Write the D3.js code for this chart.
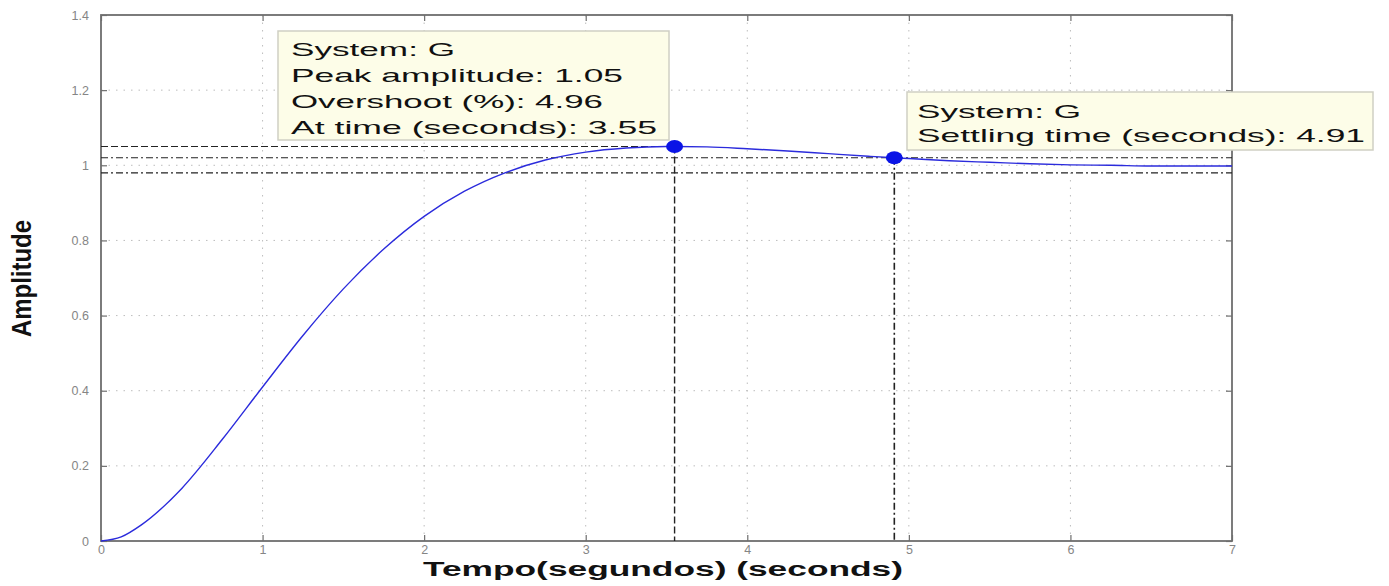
<!DOCTYPE html>
<html>
<head>
<meta charset="utf-8">
<script src="https://cdn.jsdelivr.net/npm/d3@7"></script>
<style>
  html, body { margin: 0; padding: 0; background: #fff; }
  svg { display: block; font-family: "Liberation Sans", Arial, sans-serif; }
</style>
</head>
<body>
<svg id="chart" width="1389" height="586"></svg>
<script>
// ---- data ----
const time = [0, 0.125, 0.25, 0.5, 0.75, 1, 1.25, 1.5, 1.75, 2, 2.25, 2.5, 2.75, 3, 3.25, 3.5, 3.55, 3.75, 4, 4.25, 4.5, 4.75, 4.91, 5, 5.25, 5.5, 5.75, 6, 6.25, 6.5, 6.75, 7];
const amplitude = [0, 0.011, 0.043, 0.140, 0.270, 0.410, 0.547, 0.671, 0.777, 0.864, 0.931, 0.980, 1.014, 1.035, 1.046, 1.050, 1.050, 1.049, 1.044, 1.038, 1.031, 1.024, 1.020, 1.018, 1.012, 1.008, 1.004, 1.001, 1.000, 0.998, 0.998, 0.998];
const xTicks = [0, 1, 2, 3, 4, 5, 6, 7];
const yTicks = [0, 0.2, 0.4, 0.6, 0.8, 1, 1.2, 1.4];
const xTickLabels = ["0", "1", "2", "3", "4", "5", "6", "7"];
const yTickLabels = ["0", "0.2", "0.4", "0.6", "0.8", "1", "1.2", "1.4"];
const peakPoint = { t: 3.55, y: 1.05 };
const settlePoint = { t: 4.91, y: 1.02 };
const settleBand = [0.98, 1.02];
const peakText = ["System: G", "Peak amplitude: 1.05", "Overshoot (%): 4.96", "At time (seconds): 3.55"];
const settleText = ["System: G", "Settling time (seconds): 4.91"];
const xLabel = "Tempo(segundos) (seconds)";
const yLabel = "Amplitude";

// ---- layout ----
const L = 101, R = 1232, T = 15, B = 541;
const svg = d3.select("#chart");
const x = d3.scaleLinear().domain([0, 7]).range([L, R]);
const y = d3.scaleLinear().domain([0, 1.4]).range([B, T]);

// grid
const grid = svg.append("g").attr("stroke", "#bdbdbd").attr("stroke-width", 1).attr("stroke-dasharray", "1.5,6");
grid.selectAll("line.gx").data(xTicks.slice(1, -1)).join("line")
  .attr("x1", d => x(d)).attr("x2", d => x(d)).attr("y1", T).attr("y2", B);
grid.selectAll("line.gy").data(yTicks.slice(1, -1)).join("line")
  .attr("y1", d => y(d)).attr("y2", d => y(d)).attr("x1", L).attr("x2", R);

// axes with inner ticks on all sides
const axisColor = "#6e6e6e";
function styleAxis(g) {
  g.select(".domain").remove();
  g.selectAll(".tick line").attr("stroke", axisColor).attr("stroke-width", 1.2);
  g.selectAll(".tick text").attr("fill", "#858585").attr("font-size", 12.5);
}
svg.append("g").attr("transform", `translate(0,${B})`)
  .call(d3.axisBottom(x).tickValues(xTicks).tickFormat((d, i) => xTickLabels[i]).tickSizeInner(-6).tickPadding(4))
  .call(styleAxis);
svg.append("g").attr("transform", `translate(${L},0)`)
  .call(d3.axisLeft(y).tickValues(yTicks).tickFormat((d, i) => yTickLabels[i]).tickSizeInner(-6).tickPadding(12))
  .call(styleAxis);
svg.append("g").attr("transform", `translate(0,${T})`)
  .call(d3.axisTop(x).tickValues(xTicks).tickFormat("").tickSizeInner(-6))
  .call(styleAxis);
svg.append("g").attr("transform", `translate(${R},0)`)
  .call(d3.axisRight(y).tickValues(yTicks).tickFormat("").tickSizeInner(-6))
  .call(styleAxis);

// frame
svg.append("rect").attr("x", L).attr("y", T).attr("width", R - L).attr("height", B - T)
  .attr("fill", "none").attr("stroke", axisColor).attr("stroke-width", 1.8);

// settling band lines (dash-dot)
svg.selectAll("line.band").data(settleBand).join("line")
  .attr("x1", x(0)).attr("x2", x(7)).attr("y1", d => y(d)).attr("y2", d => y(d))
  .attr("stroke", "#222").attr("stroke-width", 1.2).attr("stroke-dasharray", "7,3,2,3");

// peak guide lines (dashed)
svg.append("line").attr("x1", x(0)).attr("x2", x(peakPoint.t)).attr("y1", y(peakPoint.y)).attr("y2", y(peakPoint.y))
  .attr("stroke", "#222").attr("stroke-width", 1.2).attr("stroke-dasharray", "7,3");
svg.append("line").attr("x1", x(peakPoint.t)).attr("x2", x(peakPoint.t)).attr("y1", y(peakPoint.y)).attr("y2", y(0))
  .attr("stroke", "#222").attr("stroke-width", 1.4).attr("stroke-dasharray", "7,3");
// settling vertical (dash-dot)
svg.append("line").attr("x1", x(settlePoint.t)).attr("x2", x(settlePoint.t)).attr("y1", y(settlePoint.y)).attr("y2", y(0))
  .attr("stroke", "#222").attr("stroke-width", 1.6).attr("stroke-dasharray", "7,3,2,3");

// response curve
const line = d3.line().x((d, i) => x(time[i])).y(d => y(d)).curve(d3.curveMonotoneX);
svg.append("path").datum(amplitude).attr("d", line)
  .attr("fill", "none").attr("stroke", "#2b2bdc").attr("stroke-width", 1.4);

// markers
svg.selectAll("ellipse.mk").data([peakPoint, settlePoint]).join("ellipse")
  .attr("cx", d => x(d.t)).attr("cy", d => y(d.y)).attr("rx", 8.5).attr("ry", 6.5)
  .attr("fill", "#0a14e6");

// annotation boxes
function box(bx, by, bw, bh, lines, tx, baselines, widths) {
  svg.append("rect").attr("x", bx).attr("y", by).attr("width", bw).attr("height", bh)
    .attr("fill", "#fdfde8").attr("stroke", "#cfcfc4").attr("stroke-width", 1.5);
  svg.selectAll(null).data(lines).join("text")
    .attr("x", tx).attr("y", (d, i) => baselines[i])
    .attr("font-size", 19).attr("fill", "#111")
    .attr("textLength", (d, i) => widths[i]).attr("lengthAdjust", "spacingAndGlyphs")
    .text(d => d);
}
box(278, 31, 391, 109, peakText, 291, [56, 82, 108, 134], [164, 332, 312, 366]);
box(907, 92, 466, 58, settleText, 917, [118, 142], [164, 448]);

// axis labels
svg.append("text").attr("x", 423).attr("y", 576)
  .attr("font-size", 20).attr("font-weight", "bold").attr("fill", "#111")
  .attr("textLength", 480).attr("lengthAdjust", "spacingAndGlyphs").text(xLabel);
svg.append("text").attr("transform", "translate(31,337) rotate(-90)")
  .attr("font-size", 27).attr("font-weight", "bold").attr("fill", "#111")
  .attr("textLength", 117).attr("lengthAdjust", "spacingAndGlyphs").text(yLabel);
</script>
</body>
</html>
